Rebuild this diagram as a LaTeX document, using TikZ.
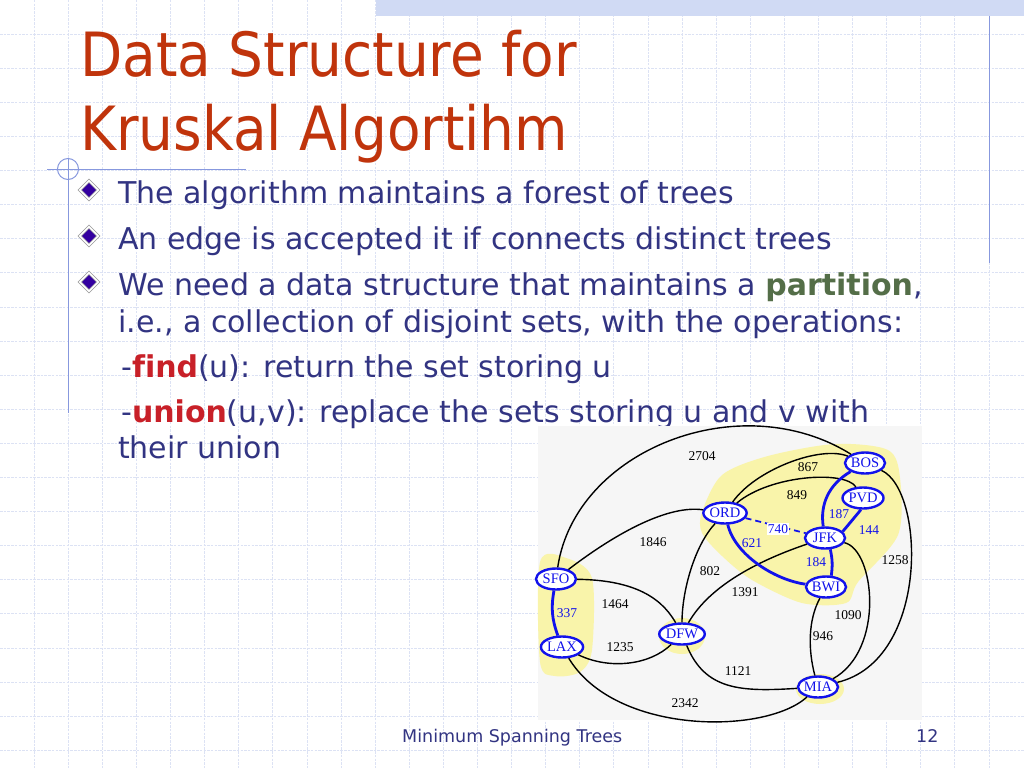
\documentclass[tikz,border=0pt]{standalone}
\usepackage{fontspec}
\setmainfont[FakeStretch=0.9]{DejaVu Sans}
\newfontfamily\bodyfont[Ligatures=NoCommon]{DejaVu Sans}
\newfontfamily\graphfont{Liberation Serif}
\usetikzlibrary{shapes,positioning,calc}

\definecolor{gridblue}{RGB}{220,226,244}
\definecolor{bandblue}{RGB}{208,218,244}
\definecolor{decoblue}{RGB}{135,152,222}
\definecolor{titlered}{RGB}{192,52,12}
\definecolor{bodyblue}{RGB}{50,52,130}
\definecolor{opred}{RGB}{200,32,40}
\definecolor{partgreen}{RGB}{84,110,72}
\definecolor{bulletblue}{RGB}{52,0,160}
\definecolor{graphbg}{RGB}{246,246,246}
\definecolor{blobyellow}{RGB}{249,244,170}
\definecolor{cityblue}{RGB}{18,18,235}

\tikzset{
    gridline/.style={draw=gridblue, line width=0.7pt, dash pattern=on 2.5pt off 1.2pt},
    deco/.style={draw=decoblue, line width=1pt},
    title/.style={anchor=base west, inner sep=0pt, text=titlered, font=\fontsize{61}{74}\selectfont},
    body/.style={anchor=base west, inner sep=0pt, text=bodyblue, font=\bodyfont\fontsize{30}{36}\selectfont},
    footer/.style={anchor=base west, inner sep=0pt, text=bodyblue, font=\bodyfont\fontsize{17.5}{20}\selectfont},
    bulletmark/.style={diamond, aspect=1, minimum size=19pt, inner sep=0pt, fill=bulletblue, draw=gray!80, double=white, double distance=1.6pt, line width=0.7pt},
    city/.style={ellipse, draw=cityblue, line width=2.4pt, fill=white, minimum width=40pt, minimum height=21pt, inner sep=0pt, text=cityblue, font=\graphfont\fontsize{14.5}{14.5}\selectfont},
    road/.style={draw=black, line width=1.4pt},
    tree/.style={draw=cityblue, line width=2.8pt},
    cost/.style={inner sep=1pt, font=\graphfont\fontsize{13.5}{13.5}\selectfont},
    treecost/.style={cost, text=cityblue}
}

\begin{document}
\begin{tikzpicture}[x=1pt, y=-1pt]
    \useasboundingbox (0,0) rectangle (1024,768);
    \fill[white] (0,0) rectangle (1024,768);

    % Background grid
    \foreach \i in {1,...,29} \draw[gridline] (\i*34.1,0) -- (\i*34.1,768);
    \foreach \j in {1,...,22} \draw[gridline] (0,\j*34.1) -- (1024,\j*34.1);
    \fill[bandblue] (376,0) rectangle (1024,16);
    \draw[deco] (989,16) -- (989,263);
    \draw[deco] (47,169) -- (246,169);
    \draw[deco] (68,158) -- (68,413);
    \draw[deco] (68,169) circle[radius=10.5pt];

    % Title
    \node[title] (t1) at (80,76) {Data Structure for};
    \node[title] (t2) at (80,150) {Kruskal Algortihm};

    % Bullets
    \node[bulletmark] (b1) at (89,190) {};
    \node[bulletmark] (b2) at (89,236) {};
    \node[bulletmark] (b3) at (89,282) {};
    \node[body] (l1) at (118,203) {The algorithm maintains a forest of trees};
    \node[body] (l2) at (118,249) {An edge is accepted it if connects distinct trees};
    \node[body] (l3) at (118,295) {We need a data structure that maintains a \textcolor{partgreen}{\textbf{partition}},};
    \node[body] (l4) at (118,332) {i.e., a collection of disjoint sets, with the operations:};
    \node[body] (l5) at (121,377) {-\textcolor{opred}{\textbf{find}}(u): return the set storing u};
    \node[body] (l6) at (121,422) {-\textcolor{opred}{\textbf{union}}(u,v): replace the sets storing u and v with};
    \node[body] (l7) at (118,458) {their union};

    % Graph picture
    \fill[graphbg] (538,426) rectangle (922,720);
    \fill[blobyellow] plot[smooth cycle] coordinates {(702,512) (722,475) (768,456) (835,444) (888,450) (900,478) (898,535) (858,582) (846,603) (802,603) (752,580) (722,556) (702,533)};
    \fill[blobyellow] plot[smooth cycle] coordinates {(540,562) (566,558) (592,578) (592,650) (580,672) (555,676) (540,662)};
    \fill[blobyellow] (682,636) ellipse[x radius=23pt, y radius=18pt];
    \fill[blobyellow] (820,689) ellipse[x radius=24pt, y radius=15pt];

    \node[city] (BOS) at (865,463) {BOS};
    \node[city] (PVD) at (863,498) {PVD};
    \node[city] (ORD) at (725,513) {ORD};
    \node[city] (JFK) at (825,538) {JFK};
    \node[city] (BWI) at (826,587) {BWI};
    \node[city] (SFO) at (556,579) {SFO};
    \node[city] (LAX) at (562,647) {LAX};
    \node[city] (DFW) at (682,634) {DFW};
    \node[city] (MIA) at (818,687) {MIA};

    \draw[road] (SFO) .. controls (575,450) and (740,385) .. (BOS);
    \draw[road] (ORD) .. controls (755,470) and (820,445) .. (BOS);
    \draw[road] (ORD) .. controls (770,475) and (845,470) .. (PVD);
    \draw[road] (BOS) .. controls (925,490) and (930,660) .. (MIA);
    \draw[road] (JFK) .. controls (875,550) and (885,650) .. (MIA);
    \draw[road] (BWI) .. controls (808,620) and (808,650) .. (MIA);
    \draw[road] (JFK) .. controls (760,560) and (710,585) .. (DFW);
    \draw[road] (ORD) .. controls (695,545) and (682,590) .. (DFW);
    \draw[road] (SFO) .. controls (620,530) and (670,505) .. (ORD);
    \draw[road] (SFO) .. controls (630,580) and (660,595) .. (DFW);
    \draw[road] (LAX) .. controls (610,670) and (650,665) .. (DFW);
    \draw[road] (LAX) .. controls (615,735) and (765,735) .. (MIA);
    \draw[road] (DFW) .. controls (705,690) and (740,692) .. (MIA);
    \draw[draw=cityblue, line width=1.8pt, dash pattern=on 6pt off 4pt] (ORD) -- (JFK);
    \draw[tree] (ORD) .. controls (735,555) and (775,580) .. (BWI);
    \draw[tree] (BOS) .. controls (828,485) and (820,505) .. (JFK);
    \draw[tree] (PVD.-100) -- (JFK.20);
    \draw[tree] (JFK.-65) to[bend left=10] (BWI.65);
    \draw[tree] (SFO) to[bend right=15] (LAX);

    % Costs
    \node[cost] (c2704) at (702,456) {2704};
    \node[cost] (c867) at (808,467) {867};
    \node[cost] (c849) at (797,495) {849};
    \node[treecost, fill=white] (c740) at (778,529) {740};
    \node[treecost] (c621) at (752,543) {621};
    \node[treecost] (c187) at (839,514) {187};
    \node[treecost] (c144) at (869,530) {144};
    \node[treecost] (c184) at (816,562) {184};
    \node[cost] (c1258) at (895,560) {1258};
    \node[cost] (c1090) at (848,615) {1090};
    \node[cost] (c946) at (823,636) {946};
    \node[cost] (c1391) at (745,592) {1391};
    \node[cost] (c802) at (710,571) {802};
    \node[cost] (c1846) at (653,542) {1846};
    \node[cost] (c1464) at (615,604) {1464};
    \node[treecost] (c337) at (567,613) {337};
    \node[cost] (c1235) at (620,647) {1235};
    \node[cost] (c2342) at (685,703) {2342};
    \node[cost] (c1121) at (738,671) {1121};

    % Footer
    \node[footer] (foot) at (402,742) {Minimum Spanning Trees};
    \node[footer] (page) at (916,742) {12};
\end{tikzpicture}
\end{document}
